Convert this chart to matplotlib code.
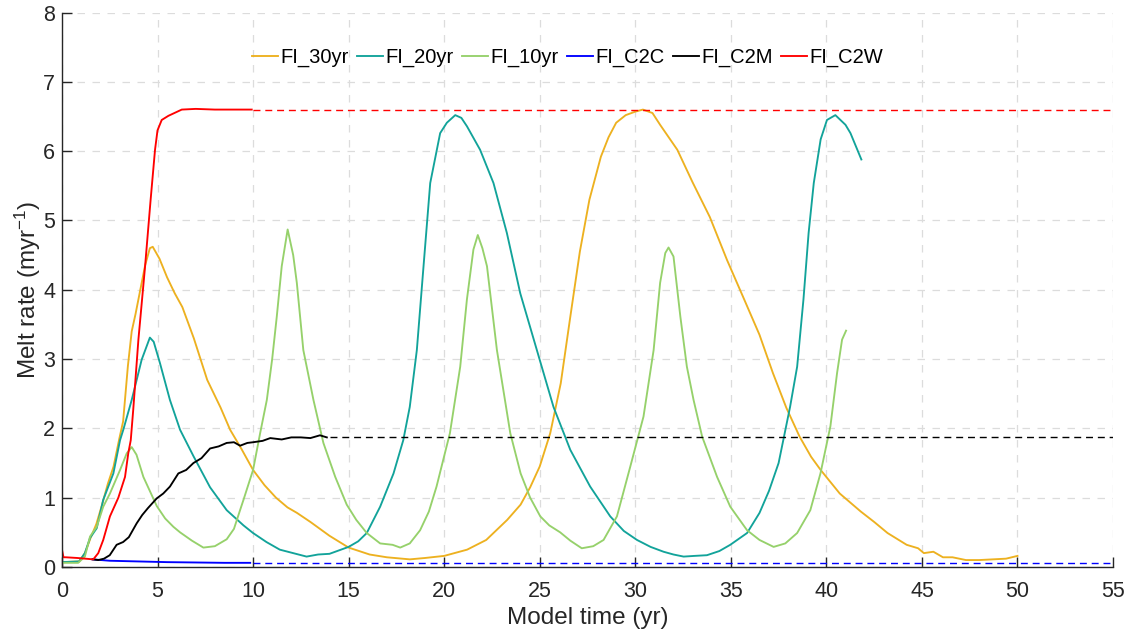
import matplotlib
matplotlib.use('Agg')
import matplotlib.pyplot as plt

plt.rcParams['font.family'] = ['Liberation Sans', 'DejaVu Sans']
plt.rcParams['mathtext.default'] = 'regular'

# FI_30yr
t_30 = [0, 0.9, 1.2, 1.5, 1.8, 2.1, 2.4, 2.7, 3.0, 3.2, 3.45, 3.65, 3.85, 4.1, 4.35, 4.6, 4.75,
        5.1, 5.5, 5.9, 6.3, 6.9, 7.6, 8.3, 8.8, 9.4, 10.0, 10.6, 11.2, 11.8, 12.3, 13.0, 14.0,
        15.0, 16.1, 17.0, 18.2, 19.0, 20.0, 21.2, 22.2, 23.3, 24.0, 24.5, 25.0, 25.55, 26.1,
        26.6, 27.1, 27.6, 28.2, 28.6, 29.0, 29.5, 30.0, 30.4, 30.9, 31.3, 32.2, 33.0, 33.9,
        34.8, 35.7, 36.5, 37.2, 37.9, 38.6, 39.2, 39.7, 40.7, 41.8, 42.5, 43.2, 44.2, 44.8,
        45.1, 45.6, 46.1, 46.6, 47.3, 48.0, 48.7, 49.4, 50.0]
m_30 = [0.07, 0.08, 0.2, 0.42, 0.62, 0.9, 1.2, 1.45, 1.85, 2.1, 2.9, 3.4, 3.65, 4.0, 4.35, 4.6,
        4.62, 4.45, 4.18, 3.95, 3.75, 3.3, 2.7, 2.3, 1.98, 1.7, 1.40, 1.18, 1.0, 0.86, 0.78,
        0.65, 0.45, 0.28, 0.18, 0.14, 0.11, 0.13, 0.16, 0.25, 0.39, 0.68, 0.9, 1.15, 1.45,
        1.93, 2.65, 3.61, 4.55, 5.3, 5.92, 6.2, 6.41, 6.52, 6.57, 6.6, 6.55, 6.38, 6.02, 5.55,
        5.05, 4.43, 3.86, 3.35, 2.8, 2.3, 1.88, 1.59, 1.40, 1.06, 0.80, 0.65, 0.49, 0.32, 0.27,
        0.2, 0.22, 0.14, 0.14, 0.10, 0.10, 0.11, 0.12, 0.16]

# FI_20yr
t_20 = [0, 0.9, 1.2, 1.47, 1.82, 2.16, 2.69, 3.04, 3.21, 3.65, 4.17, 4.6, 4.8, 5.13, 5.65, 6.18,
        6.88, 7.75, 8.62, 9.5, 10.0, 10.7, 11.4, 12.1, 12.8, 13.4, 14.0, 15.0, 15.5, 15.95,
        16.65, 17.35, 17.86, 18.2, 18.57, 18.92, 19.27, 19.79, 20.14, 20.58, 20.9, 21.19,
        21.88, 22.58, 23.28, 23.98, 24.85, 25.72, 26.6, 27.64, 28.69, 29.4, 30.09, 30.8,
        31.48, 32.0, 32.53, 33.1, 33.75, 34.4, 34.97, 35.85, 36.5, 37.0, 37.5, 38.1, 38.47,
        38.8, 39.07, 39.34, 39.7, 40.03, 40.47, 41.0, 41.26, 41.83]
m_20 = [0.07, 0.08, 0.2, 0.42, 0.56, 0.97, 1.35, 1.83, 1.98, 2.41, 2.99, 3.31, 3.25, 2.94, 2.41,
        1.98, 1.6, 1.15, 0.82, 0.6, 0.49, 0.36, 0.25, 0.2, 0.15, 0.18, 0.19, 0.29, 0.37, 0.49,
        0.87, 1.35, 1.83, 2.31, 3.13, 4.34, 5.54, 6.26, 6.41, 6.52, 6.48, 6.36, 6.02, 5.54,
        4.82, 3.95, 3.13, 2.31, 1.69, 1.16, 0.73, 0.52, 0.39, 0.29, 0.22, 0.18, 0.15, 0.16,
        0.17, 0.23, 0.32, 0.49, 0.78, 1.1, 1.5, 2.31, 2.89, 3.86, 4.82, 5.54, 6.17, 6.45,
        6.52, 6.38, 6.26, 5.88]

# FI_10yr
t_10 = [0, 0.85, 1.2, 1.47, 1.82, 2.16, 2.51, 3.04, 3.39, 3.65, 3.9, 4.26, 4.96, 5.4, 5.83,
        6.18, 6.8, 7.4, 8.0, 8.62, 9.0, 9.32, 9.5, 10.0, 10.37, 10.72, 11.0, 11.24, 11.5, 11.81,
        12.1, 12.29, 12.63, 13.16, 13.68, 14.3, 14.9, 15.4, 15.95, 16.65, 17.3, 17.7, 18.2,
        18.74, 19.2, 19.6, 20.3, 20.84, 21.19, 21.53, 21.76, 22.0, 22.24, 22.76, 23.46, 24.0,
        24.5, 25.03, 25.5, 26.07, 26.6, 27.2, 27.8, 28.34, 29.04, 29.74, 30.43, 30.96, 31.3,
        31.57, 31.74, 32.0, 32.36, 32.7, 33.05, 33.5, 34.28, 34.97, 35.85, 36.5, 37.24, 37.85,
        38.47, 39.16, 39.69, 40.21, 40.56, 40.82, 41.03]
m_10 = [0.06, 0.06, 0.15, 0.44, 0.58, 0.87, 1.06, 1.40, 1.64, 1.73, 1.62, 1.30, 0.88, 0.7, 0.58,
        0.5, 0.38, 0.28, 0.3, 0.4, 0.55, 0.82, 0.97, 1.40, 1.93, 2.41, 3.0, 3.61, 4.34, 4.87,
        4.5, 4.10, 3.13, 2.41, 1.79, 1.3, 0.9, 0.68, 0.49, 0.34, 0.32, 0.28, 0.34, 0.53, 0.8,
        1.16, 1.93, 2.89, 3.86, 4.58, 4.79, 4.6, 4.34, 3.13, 1.93, 1.35, 1.0, 0.73, 0.6, 0.5,
        0.38, 0.27, 0.3, 0.39, 0.73, 1.45, 2.17, 3.13, 4.10, 4.53, 4.61, 4.48, 3.61, 2.89,
        2.41, 1.88, 1.30, 0.87, 0.53, 0.39, 0.29, 0.34, 0.49, 0.82, 1.35, 2.03, 2.80, 3.28, 3.41]

# FI_C2C
t_c2c = [1.6, 2.5, 4.0, 5.5, 7.0, 8.5, 9.85]
m_c2c = [0.11, 0.09, 0.08, 0.07, 0.065, 0.06, 0.06]

# FI_C2M
t_c2m = [1.6, 1.9, 2.2, 2.5, 2.86, 3.2, 3.5, 3.91, 4.2, 4.5, 4.96, 5.3, 5.65, 6.09, 6.5, 6.88,
         7.3, 7.75, 8.2, 8.62, 9.0, 9.32, 9.7, 10.0, 10.5, 10.9, 11.5, 12.0, 12.5, 13.0, 13.5, 13.86]
m_c2m = [0.11, 0.1, 0.12, 0.17, 0.32, 0.36, 0.43, 0.63, 0.75, 0.85, 0.99, 1.06, 1.16, 1.35, 1.4,
         1.50, 1.57, 1.71, 1.74, 1.79, 1.80, 1.75, 1.79, 1.80, 1.82, 1.86, 1.84, 1.87, 1.87,
         1.86, 1.9, 1.87]

# FI_C2W
t_c2w = [0, 0.08, 0.2, 0.8, 1.64, 1.9, 2.16, 2.51, 2.95, 3.3, 3.47, 3.6, 3.73, 4.0, 4.35, 4.64,
         4.87, 5.0, 5.22, 5.57, 6.27, 7.0, 8.0, 9.0, 9.93]
m_c2w = [0.25, 0.14, 0.14, 0.13, 0.11, 0.2, 0.39, 0.73, 1.0, 1.30, 1.64, 1.83, 2.27, 3.28, 4.34,
         5.3, 6.02, 6.3, 6.45, 6.51, 6.6, 6.61, 6.6, 6.6, 6.6]

# steady-state levels carried on as dashed lines
steady_c2c = [10, 55], [0.055, 0.055]
steady_c2m = [14, 55], [1.88, 1.88]
steady_c2w = [10, 55], [6.6, 6.6]

fig = plt.figure(figsize=(11.41, 6.34), dpi=100)
ax = fig.add_axes([0.0543, 0.1057, 0.9212, 0.8745])

lw = 1.35
ax.plot(t_30, m_30, color='#EDB120', lw=lw, label='FI_30yr')
ax.plot(t_20, m_20, color='#12A39A', lw=lw, label='FI_20yr')
ax.plot(t_10, m_10, color='#96D16B', lw=lw, label='FI_10yr')
ax.plot(t_c2c, m_c2c, color='#0000FF', lw=lw, label='FI_C2C')
ax.plot(t_c2m, m_c2m, color='black', lw=lw, label='FI_C2M')
ax.plot(t_c2w, m_c2w, color='#FF0000', lw=lw, label='FI_C2W')

ax.plot(*steady_c2c, color='#0000FF', lw=1.0, ls=(0, (5, 3.5)))
ax.plot(*steady_c2m, color='black', lw=1.0, ls=(0, (5, 3.5)))
ax.plot(*steady_c2w, color='#FF0000', lw=1.0, ls=(0, (5, 3.5)))

ax.set_xlim(0, 55)
ax.set_ylim(0, 8)
ax.set_xticks(range(0, 56, 5))
ax.set_yticks(range(0, 9))

ax.grid(True, color='#dcdcdc', ls=(0, (6, 6)), lw=0.9)
ax.set_axisbelow(True)

for s in ['top', 'right']:
    ax.spines[s].set_visible(False)
for s in ['left', 'bottom']:
    ax.spines[s].set_color('#262626')
    ax.spines[s].set_linewidth(1.0)

ax.tick_params(direction='in', length=7, width=1.0, colors='#262626', labelsize=15.5)
ax.tick_params(axis='x', pad=10)
ax.tick_params(axis='y', pad=5)

ax.set_xlabel('Model time (yr)', fontsize=17.5, color='#262626', labelpad=4)
ax.set_ylabel('Melt rate (myr$^{-1}$)', fontsize=17.5, color='#262626', labelpad=0)

ax.legend(loc='center', bbox_to_anchor=(0.481, 0.919), ncol=6, frameon=False,
          fontsize=14.5, handlelength=1.3, handletextpad=0.12, columnspacing=0.4,
          borderaxespad=0)

fig.savefig('out.png', dpi=100)
